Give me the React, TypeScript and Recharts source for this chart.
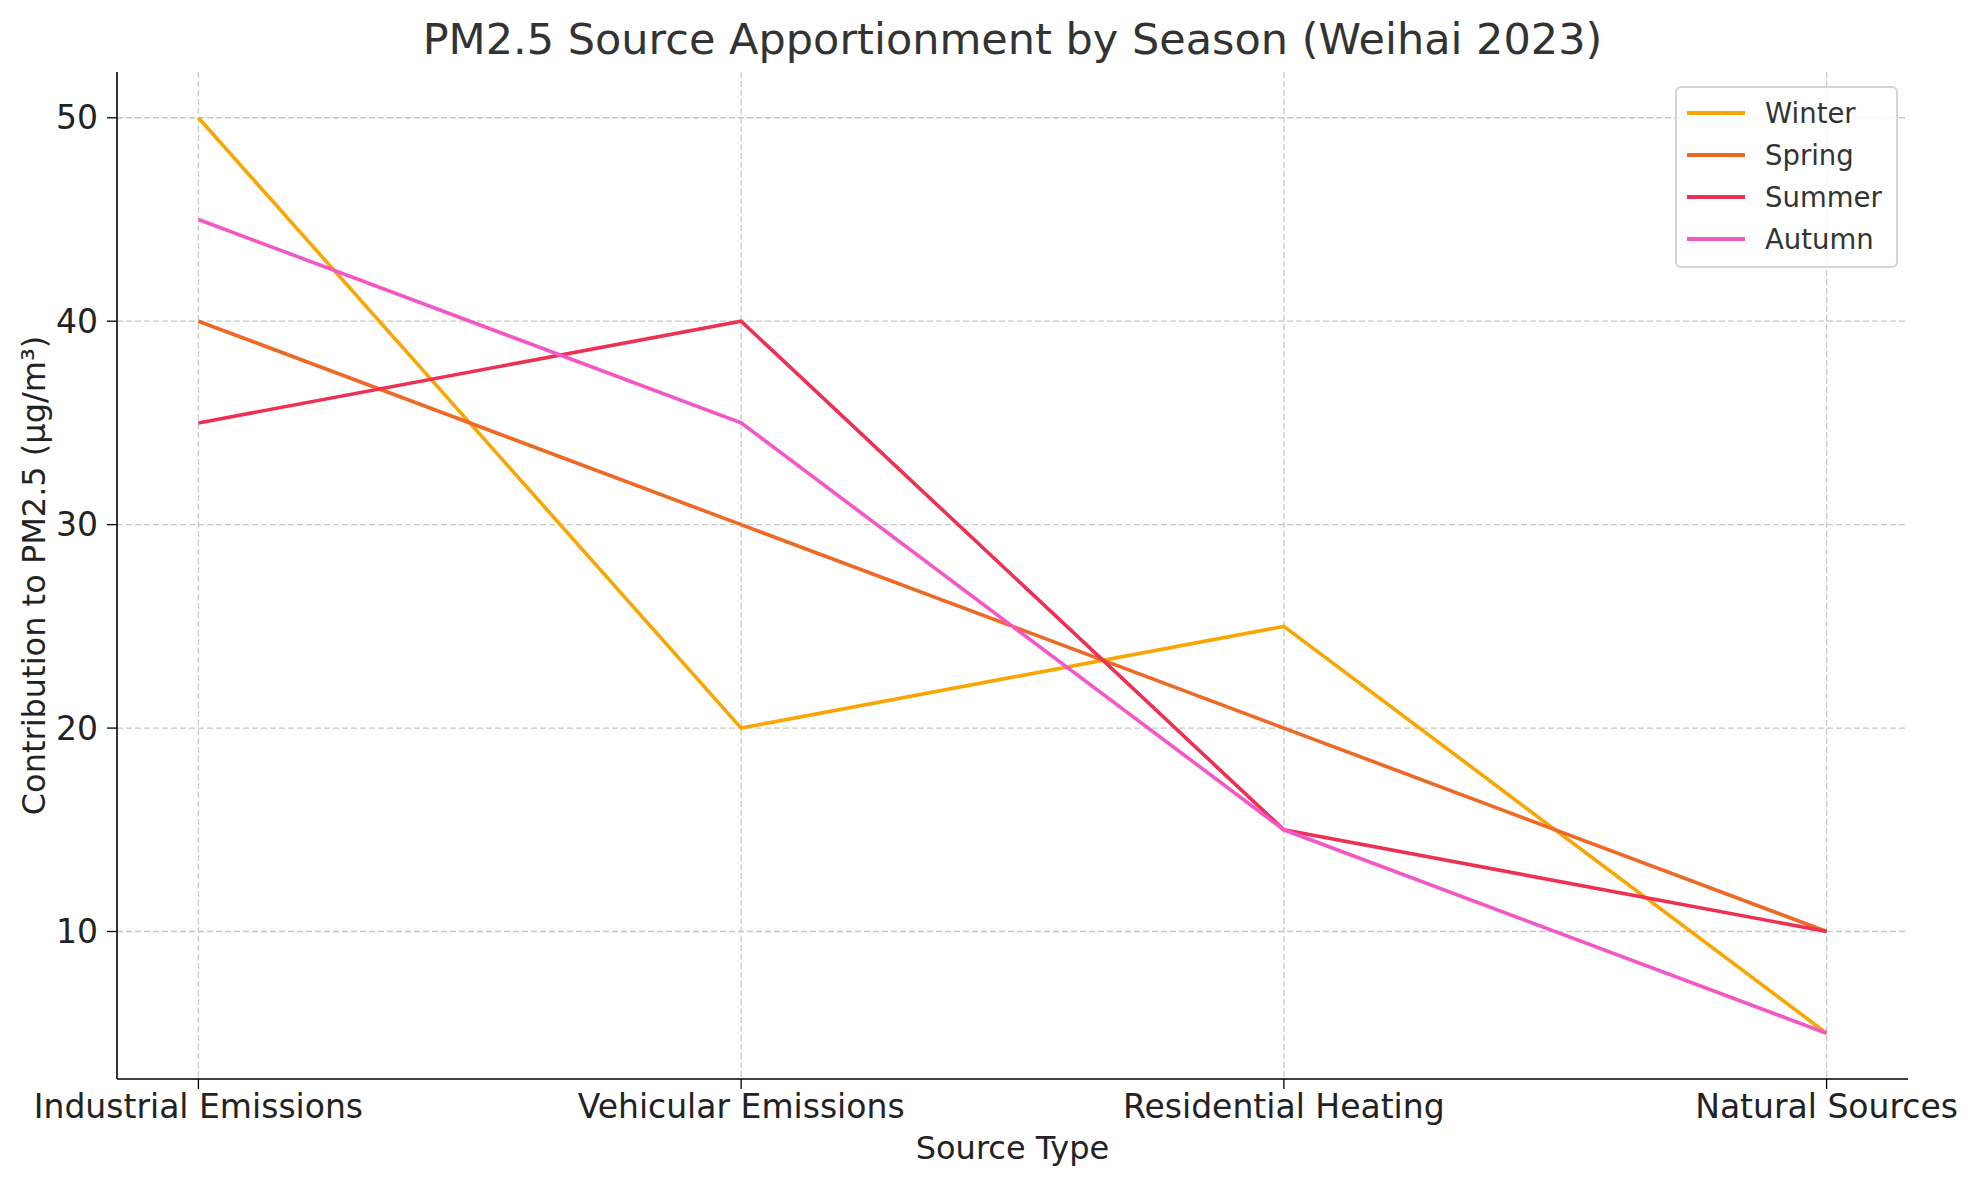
import React from 'react';
import { LineChart, Line, XAxis, YAxis, CartesianGrid, Legend, Label } from 'recharts';

const categories = ['Industrial Emissions', 'Vehicular Emissions', 'Residential Heating', 'Natural Sources'];
const winter = [50, 20, 25, 5];
const spring = [40, 30, 20, 10];
const summer = [35, 40, 15, 10];
const autumn = [45, 35, 15, 5];
const seasons = ['Winter', 'Spring', 'Summer', 'Autumn'];
const seasonColors = ['#F9A602', '#EE6A24', '#EC3152', '#F556C6'];
const yTicks = [10, 20, 30, 40, 50];
const xTicks = [0, 1, 2, 3];

const seriesValues = [winter, spring, summer, autumn];

const data = categories.map((name, i) => {
  const row: Record<string, number | string> = { idx: i, name };
  seasons.forEach((s, k) => {
    row[s] = seriesValues[k][i];
  });
  return row;
});

const FONT = '"DejaVu Sans", sans-serif';

// keep the legend in series order (recharts sorts by name otherwise)
const LegendBox = () => (
  <div
    style={{
      border: '2px solid #d4d4d4',
      borderRadius: 6,
      background: 'rgba(255,255,255,0.85)',
      padding: '4px 14px 6px 10px',
      fontFamily: FONT,
    }}
  >
    {seasons.map((s, k) => (
      <div key={s} style={{ display: 'flex', alignItems: 'center', height: 42 }}>
        <span style={{ width: 58, height: 0, borderTop: `4px solid ${seasonColors[k]}`, marginRight: 20 }} />
        <span style={{ fontSize: 27.5, color: '#333' }}>{s}</span>
      </div>
    ))}
  </div>
);

export default function App() {
  return (
    <div style={{ position: 'absolute', left: 0, top: 0, width: 1969, height: 1180, background: '#fff' }}>
      <div
        style={{
          position: 'absolute',
          left: 117,
          width: 1791,
          top: 14,
          textAlign: 'center',
          fontFamily: FONT,
          fontSize: 43,
          lineHeight: '50px',
          color: '#333',
        }}
      >
        PM2.5 Source Apportionment by Season (Weihai 2023)
      </div>
      <LineChart width={1969} height={1180} data={data} margin={{ top: 72, right: 61, left: 0, bottom: 0 }}>
        {/* syncWithTicks: grid only at tick values, no lines on the plot edges */}
        <CartesianGrid stroke="#c8c8c8" strokeDasharray="6 3" strokeWidth={1.3} syncWithTicks />
        <XAxis
          type="number"
          dataKey="idx"
          domain={[-0.15, 3.15]}
          ticks={xTicks}
          interval={0}
          allowDataOverflow
          tickFormatter={(v: number) => categories[v]}
          height={101}
          tickSize={10}
          tickMargin={6}
          axisLine={{ stroke: '#000', strokeWidth: 1.6 }}
          tickLine={{ stroke: '#000', strokeWidth: 1.3 }}
          tick={{ fill: '#222', fontSize: 33, fontFamily: FONT }}
        >
          <Label
            content={({ viewBox }: any) => (
              <text
                x={viewBox.x + viewBox.width / 2}
                y={viewBox.y + 80}
                textAnchor="middle"
                fontSize={32}
                fontFamily={FONT}
                fill="#222"
              >
                Source Type
              </text>
            )}
          />
        </XAxis>
        <YAxis
          type="number"
          domain={[2.75, 52.25]}
          ticks={yTicks}
          allowDataOverflow
          width={117}
          tickSize={10}
          tickMargin={9}
          axisLine={{ stroke: '#000', strokeWidth: 1.6 }}
          tickLine={{ stroke: '#000', strokeWidth: 1.3 }}
          tick={{ fill: '#222', fontSize: 33, fontFamily: FONT }}
        >
          <Label
            content={({ viewBox }: any) => {
              const cy = viewBox.y + viewBox.height / 2;
              return (
                <text
                  x={34}
                  y={cy}
                  transform={`rotate(-90, 34, ${cy})`}
                  textAnchor="middle"
                  dominantBaseline="central"
                  fontSize={32}
                  fontFamily={FONT}
                  fill="#222"
                >
                  Contribution to PM2.5 (µg/m³)
                </text>
              );
            }}
          />
        </YAxis>
        <Legend
          layout="vertical"
          align="center"
          verticalAlign="middle"
          content={<LegendBox />}
          wrapperStyle={{ top: 86, left: 1675, width: 'auto' }}
        />
        {seasons.map((s, k) => (
          <Line
            key={s}
            type="linear"
            dataKey={s}
            name={s}
            stroke={seasonColors[k]}
            strokeWidth={3.6}
            dot={false}
            activeDot={false}
            isAnimationActive={false}
          />
        ))}
      </LineChart>
    </div>
  );
}
